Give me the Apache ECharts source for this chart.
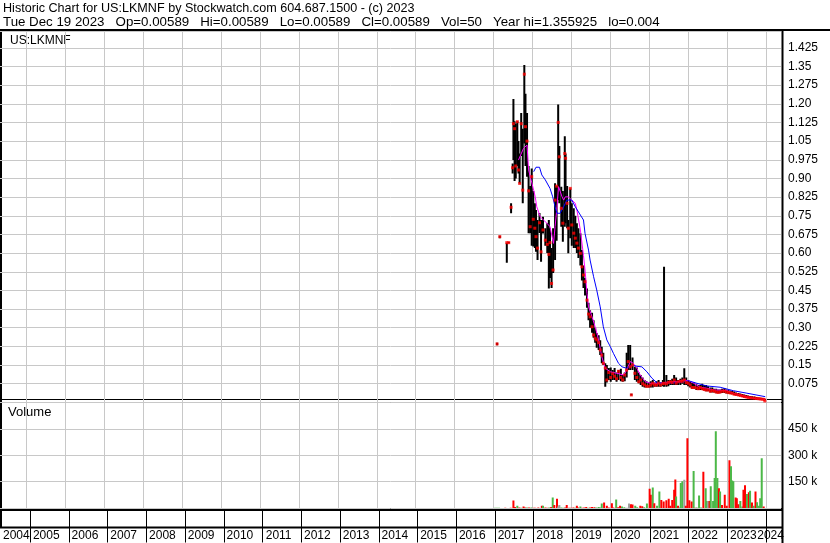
<!DOCTYPE html>
<html><head><meta charset="utf-8">
<script src="https://cdn.jsdelivr.net/npm/echarts@6/dist/echarts.min.js"></script>
<style>html,body{margin:0;padding:0;background:#fff}#c{width:830px;height:543px}</style>
</head><body><div id="c"></div>
<script>
// ---------- texts ----------
const headerLine1 = 'Historic Chart for US:LKMNF by Stockwatch.com 604.687.1500 - (c) 2023';
const headerLine2 = 'Tue Dec 19 2023   Op=0.00589   Hi=0.00589   Lo=0.00589   Cl=0.00589   Vol=50   Year hi=1.355925   lo=0.004';
const symbolLabel = 'US:LKMNF';
const volumeLabel = 'Volume';

// ---------- axes ----------
const yearLabels = ['2004','2005','2006','2007','2008','2009','2010','2011','2012','2013','2014','2015','2016','2017','2018','2019','2020','2021','2022','2023','2024'];
const yearValues = [2004,2005,2006,2007,2008,2009,2010,2011,2012,2013,2014,2015,2016,2017,2018,2019,2020,2021,2022,2023,2024];
const priceTickValues = [0.075,0.15,0.225,0.30,0.375,0.45,0.525,0.60,0.675,0.75,0.825,0.90,0.975,1.05,1.125,1.20,1.275,1.35,1.425];
const priceTickLabels = ['0.075','0.15','0.225','0.30','0.375','0.45','0.525','0.60','0.675','0.75','0.825','0.90','0.975','1.05','1.125','1.20','1.275','1.35','1.425'];
const volTickValues = [150,300,450];
const volTickLabels = ['150 k','300 k','450 k'];

// ---------- price bars (decimal year, high, low, close) ----------
const barT = [2017.09,2017.16,2017.34,2017.39,2017.45,2017.49,2017.51,2017.54,2017.57,2017.61,2017.64,2017.67,2017.71,2017.75,2017.79,2017.82,2017.86,2017.90,2017.94,2017.98,
2018.02,2018.06,2018.09,2018.13,2018.18,2018.22,2018.27,2018.33,2018.38,2018.42,2018.45,2018.49,2018.53,2018.58,2018.62,2018.66,2018.69,2018.74,2018.78,2018.83,2018.85,2018.89,2018.92,2018.97,
2019.01,2019.06,2019.10,2019.14,2019.18,2019.23,2019.27,2019.31,2019.35,2019.40,2019.44,2019.48,2019.53,2019.57,2019.61,2019.65,2019.70,2019.74,2019.78,2019.82,2019.87,2019.91,2019.96,
2020.01,2020.06,2020.11,2020.16,2020.21,2020.27,2020.32,2020.37,2020.42,2020.46,2020.51,2020.54,2020.57,2020.63,2020.68,2020.73,2020.78,2020.83,2020.88,2020.93,2020.99,
2021.04,2021.09,2021.14,2021.19,2021.24,2021.29,2021.35,2021.38,2021.44,2021.49,2021.54,2021.59,2021.64,2021.69,2021.74,2021.80,2021.85,2021.90,2021.95,
2022.00,2022.05,2022.10,2022.15,2022.21,2022.26,2022.31,2022.36,2022.41,2022.46,2022.51,2022.57,2022.62,2022.67,2022.72,2022.77,2022.82,2022.87,2022.93,2022.98,
2023.03,2023.08,2023.13,2023.18,2023.23,2023.29,2023.34,2023.39,2023.44,2023.49,2023.54,2023.59,2023.64,2023.70,2023.75,2023.80,2023.85,2023.90,2023.95,2023.97];
const barHigh = [0.24,0.67,0.642,0.645,0.80,0.96,1.219,1.13,1.12,1.13,1.05,1.00,1.163,1.10,1.356,1.24,1.163,0.95,0.87,0.94,
0.85,0.80,0.773,0.733,0.761,0.733,0.746,0.70,0.72,0.733,0.70,0.62,0.70,0.881,0.87,1.197,1.03,0.867,0.85,1.07,1.0,0.87,0.733,0.86,
0.80,0.78,0.75,0.72,0.70,0.68,0.612,0.55,0.50,0.458,0.40,0.37,0.36,0.33,0.30,0.279,0.27,0.25,0.224,0.20,0.157,0.15,0.138,
0.14,0.13,0.138,0.12,0.13,0.135,0.11,0.12,0.20,0.231,0.231,0.035,0.18,0.143,0.14,0.12,0.11,0.10,0.09,0.085,0.08,
0.085,0.09,0.08,0.085,0.09,0.08,0.09,0.545,0.11,0.09,0.09,0.095,0.11,0.10,0.09,0.095,0.10,0.137,0.10,
0.09,0.085,0.08,0.08,0.075,0.07,0.07,0.075,0.07,0.07,0.065,0.06,0.06,0.055,0.055,0.052,0.052,0.055,0.058,0.052,
0.05,0.048,0.046,0.044,0.04,0.038,0.036,0.034,0.032,0.03,0.028,0.026,0.025,0.024,0.022,0.02,0.019,0.018,0.016,0.00589];
const barLow = [0.23,0.66,0.561,0.64,0.76,0.92,0.974,0.89,0.90,0.95,0.92,0.88,0.99,0.80,1.04,0.95,0.907,0.68,0.68,0.63,
0.626,0.62,0.605,0.572,0.681,0.565,0.679,0.63,0.60,0.458,0.50,0.46,0.52,0.572,0.65,0.813,0.80,0.706,0.646,0.706,0.72,0.70,0.599,0.66,
0.63,0.62,0.62,0.60,0.58,0.55,0.49,0.46,0.43,0.38,0.33,0.30,0.28,0.26,0.24,0.22,0.211,0.19,0.157,0.15,0.063,0.08,0.09,
0.083,0.09,0.09,0.083,0.09,0.085,0.083,0.085,0.10,0.13,0.13,0.028,0.13,0.09,0.083,0.077,0.07,0.063,0.06,0.06,0.06,
0.06,0.06,0.063,0.063,0.063,0.063,0.065,0.063,0.063,0.065,0.07,0.07,0.07,0.07,0.07,0.07,0.075,0.07,0.07,
0.065,0.06,0.055,0.055,0.05,0.05,0.05,0.05,0.048,0.045,0.045,0.04,0.04,0.04,0.037,0.037,0.037,0.038,0.038,0.036,
0.035,0.034,0.033,0.03,0.028,0.026,0.025,0.022,0.02,0.02,0.018,0.016,0.015,0.014,0.013,0.012,0.011,0.01,0.009,0.00589];
const barClose = [0.235,0.666,0.642,0.642,0.784,0.943,1.12,1.10,0.95,1.128,0.934,0.88,1.12,0.853,1.319,1.108,1.05,0.85,0.706,0.907,
0.736,0.70,0.666,0.62,0.722,0.605,0.693,0.652,0.635,0.595,0.642,0.478,0.532,0.813,0.869,1.125,0.987,0.78,0.72,1.0,0.981,0.80,0.70,0.86,
0.713,0.68,0.66,0.64,0.62,0.599,0.545,0.512,0.485,0.411,0.355,0.344,0.304,0.271,0.258,0.251,0.24,0.211,0.19,0.157,0.138,0.09,0.12,
0.10,0.115,0.105,0.095,0.125,0.10,0.09,0.11,0.13,0.164,0.143,0.03,0.15,0.117,0.10,0.083,0.09,0.075,0.07,0.065,0.065,
0.07,0.077,0.07,0.07,0.077,0.07,0.075,0.077,0.075,0.08,0.083,0.08,0.09,0.077,0.083,0.085,0.085,0.09,0.08,
0.077,0.07,0.06,0.06,0.058,0.055,0.06,0.055,0.052,0.05,0.05,0.045,0.048,0.045,0.042,0.04,0.042,0.045,0.045,0.042,
0.04,0.038,0.037,0.033,0.032,0.03,0.028,0.026,0.024,0.022,0.02,0.019,0.018,0.017,0.016,0.015,0.014,0.013,0.012,0.00589];

// ---------- moving averages ----------
const maFastT = [2017.64,2017.77,2017.86,2017.90,2017.94,2018.03,2018.07,2018.11,2018.20,2018.28,2018.37,2018.45,2018.54,2018.58,2018.63,2018.67,2018.71,2018.76,2018.80,2018.84,2018.92,
2019.01,2019.10,2019.14,2019.23,2019.31,2019.35,2019.40,2019.44,2019.53,2019.61,2019.70,2019.78,2019.87,2020.00,2020.17,2020.34,2020.42,2020.51,2020.59,2020.68,2020.77,2020.90,
2021.02,2021.28,2021.54,2021.71,2021.88,2022.01,2022.14,2022.31,2022.48,2022.65,2022.99,2023.16,2023.42,2023.68,2023.98];
const maFast = [0.974,1.021,1.034,0.934,0.934,0.853,0.826,0.786,0.746,0.733,0.72,0.706,0.639,0.706,0.786,0.867,0.867,0.826,0.813,0.826,0.826,
0.813,0.80,0.773,0.693,0.59,0.532,0.438,0.384,0.344,0.304,0.251,0.184,0.137,0.123,0.117,0.11,0.13,0.164,0.157,0.137,0.11,0.083,
0.077,0.077,0.083,0.083,0.09,0.087,0.077,0.061,0.057,0.05,0.048,0.037,0.026,0.016,0.012];
const maSlowT = [2018.03,2018.09,2018.18,2018.24,2018.33,2018.45,2018.52,2018.58,2018.63,2018.71,2018.80,2018.88,2019.01,2019.10,2019.23,2019.31,2019.35,2019.44,2019.48,2019.57,2019.65,2019.74,2019.82,2019.91,
2020.00,2020.08,2020.21,2020.30,2020.42,2020.55,2020.68,2020.81,2020.94,2021.07,2021.20,2021.45,2021.80,2022.01,2022.22,2022.48,2022.82,2023.16,2023.51,2023.98];
const maSlow = [0.927,0.945,0.945,0.914,0.894,0.86,0.826,0.786,0.76,0.76,0.786,0.813,0.813,0.786,0.753,0.733,0.679,0.612,0.572,0.505,0.452,0.384,0.304,0.251,
0.224,0.197,0.157,0.143,0.137,0.15,0.145,0.143,0.123,0.097,0.079,0.077,0.08,0.087,0.077,0.066,0.061,0.047,0.037,0.023];

// ---------- volume (decimal year, thousands, direction u/d/n) ----------
const volT = [2017.04,2017.09,2017.14,2017.30,2017.44,2017.51,2017.55,2017.61,2017.66,2017.71,2017.77,2017.81,2017.86,2017.91,2017.97,2018.03,2018.07,2018.15,2018.24,2018.27,2018.33,2018.38,2018.43,2018.48,2018.52,2018.56,2018.63,2018.66,2018.69,2018.74,2018.79,2018.84,2018.88,2018.94,2018.99,
2019.05,2019.10,2019.14,2019.17,2019.23,2019.28,2019.33,2019.38,2019.43,2019.48,2019.53,2019.59,2019.64,2019.70,2019.74,2019.78,2019.84,2019.91,2019.96,
2020.04,2020.08,2020.15,2020.20,2020.25,2020.30,2020.36,2020.43,2020.48,2020.53,2020.57,2020.64,2020.69,2020.77,2020.82,2020.87,2020.94,
2021.01,2021.04,2021.09,2021.13,2021.20,2021.26,2021.31,2021.37,2021.44,2021.50,2021.54,2021.59,2021.64,2021.67,2021.69,2021.74,2021.78,2021.81,2021.85,2021.90,2021.94,2021.98,
2022.03,2022.09,2022.14,2022.18,2022.22,2022.28,2022.33,2022.39,2022.45,2022.48,2022.51,2022.55,2022.58,2022.64,2022.68,2022.71,2022.75,2022.79,2022.82,2022.87,2022.94,2022.99,
2023.06,2023.10,2023.13,2023.16,2023.22,2023.25,2023.29,2023.34,2023.39,2023.42,2023.46,2023.51,2023.56,2023.59,2023.64,2023.68,2023.73,2023.77,2023.82,2023.85,2023.89,2023.94];
const volK = [1,1,1,1,2,42,6,13,3,2,8,3,3,3,3,2,2,3,13,13,3,2,3,5,60,17,52,8,17,3,2,3,17,2,2,
3,2,13,3,8,2,3,5,2,3,6,4,3,6,3,25,31,13,3,
27,3,48,4,13,8,4,2,25,21,20,13,4,13,10,4,25,
110,75,117,27,13,94,46,37,44,52,13,46,104,162,65,13,3,142,152,160,13,396,
44,37,210,2,3,71,3,206,113,40,40,40,123,40,171,437,171,113,94,17,75,13,
271,238,156,152,60,56,21,40,8,104,129,79,90,98,31,13,94,33,13,56,283,8];
const volDir = ['u','u','u','d','d','d','d','u','d','u','d','d','u','d','u','d','d','d','d','u','d','d','u','d','u','d','d','n','n','u','u','d','d','d','d',
'd','u','d','d','u','d','d','d','u','d','d','d','u','u','u','u','d','d','d',
'd','d','u','d','d','u','u','n','n','d','d','u','u','d','d','u','u',
'd','d','u','d','u','u','d','d','d','d','d','d','d','d','u','d','u','u','u','n','d','d',
'd','d','u','d','u','u','u','d','u','u','n','d','u','u','u','u','u','d','u','d','d','d',
'd','u','u','u','d','d','d','u','u','d','d','u','d','u','d','u','d','u','u','u','u','d'];

// ---------- chart ----------
const FONT = '"Liberation Sans", Arial, sans-serif';
const dirColor = {u:'#4cb848', d:'#ff0000', n:'#a0a0a0'};
const X_MIN = 2004.3186, X_MAX = 2024.385;

function priceFmt(v){ for (let i=0;i<priceTickValues.length;i++){ if (Math.abs(v-priceTickValues[i])<1e-6) return priceTickLabels[i]; } return ''; }
function volFmt(v){ for (let i=0;i<volTickValues.length;i++){ if (Math.abs(v-volTickValues[i])<1e-6) return volTickLabels[i]; } return ''; }
// year label values (first one sits at the left edge of the frame)
const yearLabelValues = yearValues.map(v => Math.max(v, X_MIN));
function yearFmt(v){
  let i = -1;
  for (let k=0;k<yearLabelValues.length;k++){ if (Math.abs(v-yearLabelValues[k])<1e-6) i = k; }
  if (i < 0) return '';
  const key = i === 0 ? 'f' : (i === yearLabels.length - 1 ? 'l' : 'n');
  return '{' + key + '|' + yearLabels[i] + '}';
}
function xAx(gi, lineColor, withLabels){
  const ax = {type:'value', gridIndex:gi, min:X_MIN, max:X_MAX,
    axisLine:{show:false},
    axisTick:{show:false, customValues:yearValues.filter(v => v > X_MIN)},
    axisLabel:{show:false},
    splitLine:{show:true, lineStyle:{color:lineColor, width:1}}};
  if (withLabels){
    const r = {fontFamily:FONT, fontSize:12, color:'#000'};
    ax.axisLabel = {show:true, inside:true, margin:1, align:'center', customValues:yearLabelValues, formatter:yearFmt,
      showMinLabel:true, showMaxLabel:true, hideOverlap:false,
      fontFamily:FONT, fontSize:12, color:'#000',
      rich:{ n:Object.assign({padding:[0,0,0,32]}, r), f:Object.assign({padding:[0,0,0,25]}, r), l:Object.assign({padding:[0,0,0,9]}, r) }};
  }
  return ax;
}

const chart = echarts.init(document.getElementById('c'), null, {renderer:'canvas'});
const lbl = {fontFamily:FONT, fontSize:12, color:'#000'};
chart.setOption({
  animation:false,
  backgroundColor:'#fff',
  grid:[
    {left:0, top:31, right:49, height:371.4},
    {left:0, top:402.5, right:49, height:105.5},
    {left:0, top:510, right:49, height:32.5}
  ],
  xAxis:[ xAx(0,'#c8c8c8',false), xAx(1,'#c8c8c8',false), xAx(2,'#000',true) ],
  yAxis:[
    {type:'value', gridIndex:0, position:'right', min:0, max:1.4925, interval:0.075,
     axisLine:{show:false}, axisTick:{show:false}, splitLine:{show:true, lineStyle:{color:'#c8c8c8', width:1}},
     axisLabel:Object.assign({margin:7, formatter:priceFmt}, lbl)},
    {type:'value', gridIndex:1, position:'right', min:0, max:600, interval:150,
     axisLine:{show:false}, axisTick:{show:false}, splitLine:{show:true, lineStyle:{color:'#c8c8c8', width:1}},
     axisLabel:Object.assign({margin:7, formatter:volFmt}, lbl)},
    {type:'value', gridIndex:2, show:false, min:0, max:1}
  ],
  series:[
    {type:'custom', xAxisIndex:0, yAxisIndex:0, z:3, clip:true,
     data: barT.map((t,i)=>[t, barHigh[i], barLow[i]]),
     renderItem:(params, api)=>{
       const a = api.coord([api.value(0), api.value(1)]);
       const b = api.coord([api.value(0), api.value(2)]);
       return {type:'line', shape:{x1:a[0], y1:a[1], x2:b[0], y2:b[1]}, style:{stroke:'#000', lineWidth:2}};
     }},
    {type:'line', xAxisIndex:0, yAxisIndex:0, z:4, data: maFastT.map((t,i)=>[t, maFast[i]]),
     showSymbol:false, lineStyle:{color:'#ff00ff', width:1}, itemStyle:{color:'#ff00ff'}, silent:true},
    {type:'line', xAxisIndex:0, yAxisIndex:0, z:4, data: maSlowT.map((t,i)=>[t, maSlow[i]]),
     showSymbol:false, lineStyle:{color:'#0000ff', width:1}, itemStyle:{color:'#0000ff'}, silent:true},
    {type:'scatter', xAxisIndex:0, yAxisIndex:0, z:5, symbol:'rect', symbolSize:3, clip:false,
     itemStyle:{color:'#ff0000'}, data: barT.map((t,i)=>[t, barClose[i]])},
    {type:'custom', xAxisIndex:1, yAxisIndex:1, z:3, clip:true,
     data: volT.map((t,i)=>[t, volK[i], i]),
     renderItem:(params, api)=>{
       const top = api.coord([api.value(0), api.value(1)]);
       const base = api.coord([api.value(0), 0]);
       const i = api.value(2);
       return {type:'rect', shape:{x:top[0]-1, y:top[1], width:2, height:base[1]-top[1]}, style:{fill:dirColor[volDir[i]]}};
     }}
  ],
  graphic:[
    {type:'text', left:3, top:2, style:{text:headerLine1, font:'12.6px ' + FONT, fill:'#000'}},
    {type:'text', left:3, top:16, style:{text:headerLine2, font:'13.3px ' + FONT, fill:'#000'}},
    {type:'text', left:10, top:35, style:{text:symbolLabel, font:'12px ' + FONT, fill:'#000'}},
    {type:'text', left:8, top:406, style:{text:volumeLabel, font:'13px ' + FONT, fill:'#000'}},
    {type:'line', shape:{x1:0, y1:30, x2:830, y2:30}, style:{stroke:'#000', lineWidth:2}},
    {type:'line', shape:{x1:1, y1:30, x2:1, y2:527}, style:{stroke:'#000', lineWidth:2}},
    {type:'line', shape:{x1:0, y1:399.5, x2:782, y2:399.5}, style:{stroke:'#000', lineWidth:1}},
    {type:'line', shape:{x1:0, y1:402.5, x2:782, y2:402.5}, style:{stroke:'#000', lineWidth:1}},
    {type:'line', shape:{x1:0, y1:509.5, x2:782, y2:509.5}, style:{stroke:'#000', lineWidth:3}},
    {type:'line', shape:{x1:0, y1:527.5, x2:782, y2:527.5}, style:{stroke:'#000', lineWidth:2}},
    {type:'line', shape:{x1:782.5, y1:30, x2:782.5, y2:543}, style:{stroke:'#000', lineWidth:2}}
  ]
});
</script></body></html>
